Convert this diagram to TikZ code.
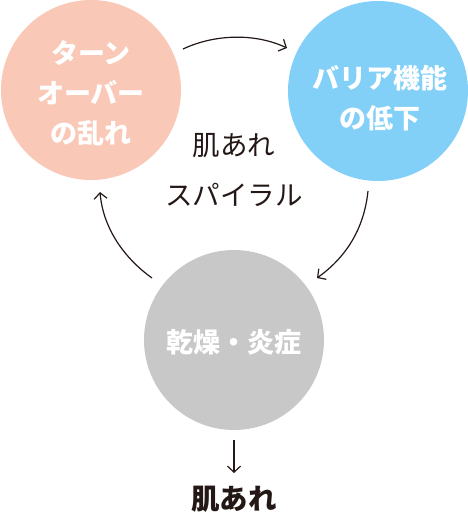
\documentclass[tikz,border=0pt]{standalone}
\usepackage{fontspec}
\newfontfamily\jp{Noto Sans CJK JP}
\usetikzlibrary{arrows.meta}
\definecolor{cpink}{RGB}{249,200,183}
\definecolor{cblue}{RGB}{130,208,247}
\definecolor{cgray}{RGB}{200,200,200}
\definecolor{cink}{RGB}{35,24,21}
\tikzset{
  blob/.style={circle, minimum size=180pt, inner sep=0pt, draw=none},
  intext/.style={text=white, font=\jp\bfseries\fontsize{27pt}{40pt}\selectfont, align=center, inner sep=0pt},
  midtext/.style={text=cink, font=\jp\fontsize{27.5pt}{50pt}\selectfont, align=center, inner sep=0pt},
  flow/.style={draw=cink, line width=1.2pt, -{Straight Barb[length=6pt,width=13pt,line width=1.2pt]}}
}
\begin{document}
\begin{tikzpicture}[x=1pt,y=-1pt]
\useasboundingbox (0,0) rectangle (468,517);
\node[blob, fill=cpink] (turn) at (91,90) {};
\node[blob, fill=cblue] (barrier) at (378,91) {};
\node[blob, fill=cgray] (dry) at (234,340) {};
\node[intext] (turnt) at (91,93) {ターン\\オーバー\\の乱れ};
\node[intext] (barriert) at (380,98) {バリア機能\\の低下};
\node[intext] (dryt) at (234,342) {乾燥・炎症};
\node[midtext] (spiral) at (234,170) {肌あれ\\スパイラル};
\coordinate (a1s) at (183,49);
\coordinate (a1e) at (287,48);
\coordinate (a2s) at (368,191);
\coordinate (a2e) at (317,278);
\coordinate (a3s) at (152,278);
\coordinate (a3e) at (100,192);
\draw[flow] (a1s) .. controls (215,34) and (255,33) .. (a1e);
\draw[flow] (a2s) .. controls (364,230) and (345,258) .. (a2e);
\draw[flow] (a3s) .. controls (124,258) and (103,228) .. (a3e);
\node[text=cink, font=\jp\bfseries\fontsize{28.5pt}{30pt}\selectfont, inner sep=0pt] (result) at (234,499) {肌あれ};
\coordinate (a4s) at (234,440);
\draw[flow] (a4s) -- (234,473);
\end{tikzpicture}
\end{document}
